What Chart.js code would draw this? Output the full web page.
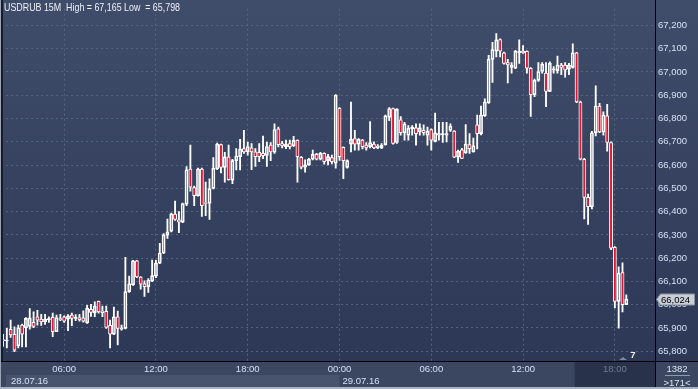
<!DOCTYPE html>
<html>
<head>
<meta charset="utf-8">
<script src="https://cdn.jsdelivr.net/npm/chart.js@4/dist/chart.umd.min.js"></script>
<style>
  html, body { margin: 0; padding: 0; background: #2f3b57; overflow: hidden; }
  #wrap { width: 698px; height: 389px; }
</style>
</head>
<body>
<div id="wrap"><canvas id="chart" width="698" height="389"></canvas></div>
<script>
/* ==================== DATA ==================== */

const symbol = 'USDRUB';
const period = '15M';
const firstBar = { year: 16, month: 7, day: 28, hour: 2, minute: 0 };
const barMinutes = 15;
const visibleBars = 171;
const barsInfo = ['1382', '>171<'];

const opens = [
  65.850, 65.844, 65.894, 65.873, 65.824, 65.912, 65.901, 65.907, 65.924, 65.948,
  65.938, 65.926, 65.936, 65.946, 65.884, 65.937, 65.948, 65.938, 65.955, 65.941,
  65.945, 65.943, 65.922, 65.980, 65.966, 66.014, 65.973, 65.971, 65.911, 65.873,
  65.948, 65.895, 65.898, 66.056, 66.085, 66.188, 66.119, 66.090, 66.077, 66.101,
  66.123, 66.178, 66.222, 66.299, 66.316, 66.389, 66.365, 66.355, 66.432, 66.583,
  66.503, 66.468, 66.583, 66.439, 66.435, 66.500, 66.583, 66.688, 66.590, 66.635,
  66.535, 66.619, 66.636, 66.671, 66.657, 66.674, 66.657, 66.655, 66.650, 66.641,
  66.686, 66.655, 66.756, 66.692, 66.679, 66.692, 66.683, 66.706, 66.633, 66.591,
  66.601, 66.625, 66.646, 66.625, 66.650, 66.619, 66.632, 66.608, 66.844, 66.676,
  66.590, 66.690, 66.714, 66.690, 66.707, 66.686, 66.679, 66.690, 66.674, 66.674,
  66.688, 66.805, 66.843, 66.697, 66.794, 66.739, 66.728, 66.756, 66.760, 66.742,
  66.749, 66.728, 66.752, 66.702, 66.728, 66.731, 66.728, 66.749, 66.746, 66.634,
  66.665, 66.653, 66.688, 66.657, 66.773, 66.735, 66.812, 66.868, 67.054, 67.090,
  67.139, 67.082, 67.040, 67.020, 67.016, 67.082, 67.090, 67.089, 67.016, 66.903,
  66.964, 67.002, 66.995, 66.917, 67.009, 67.006, 67.030, 67.030, 67.012, 67.020,
  67.082, 66.871, 66.625, 66.461, 66.421, 66.739, 66.854, 66.742, 66.812, 66.697,
  66.246, 66.014, 66.138, 66.000
];
const highs = [
  65.873, 65.898, 65.934, 65.905, 65.912, 65.917, 65.945, 65.983, 65.969, 65.976,
  65.959, 65.959, 65.948, 65.964, 65.955, 65.959, 65.952, 65.957, 65.964, 65.957,
  65.959, 65.974, 65.997, 66.002, 66.012, 66.016, 65.994, 65.994, 65.934, 65.990,
  65.973, 65.912, 66.203, 66.123, 66.191, 66.191, 66.121, 66.102, 66.112, 66.192,
  66.191, 66.264, 66.306, 66.368, 66.394, 66.445, 66.400, 66.437, 66.594, 66.686,
  66.510, 66.587, 66.587, 66.527, 66.541, 66.632, 66.695, 66.690, 66.655, 66.686,
  66.625, 66.671, 66.711, 66.749, 66.699, 66.692, 66.671, 66.692, 66.725, 66.699,
  66.697, 66.777, 66.763, 66.702, 66.707, 66.707, 66.723, 66.708, 66.636, 66.622,
  66.629, 66.664, 66.650, 66.655, 66.653, 66.646, 66.643, 66.903, 66.847, 66.678,
  66.622, 66.871, 66.749, 66.714, 66.711, 66.697, 66.787, 66.700, 66.688, 66.692,
  66.815, 66.847, 66.845, 66.843, 66.808, 66.784, 66.770, 66.770, 66.777, 66.777,
  66.773, 66.763, 66.756, 66.823, 66.784, 66.784, 66.784, 66.777, 66.748, 66.664,
  66.672, 66.774, 66.735, 66.716, 66.815, 66.854, 66.885, 67.072, 67.128, 67.165,
  67.142, 67.086, 67.054, 67.040, 67.093, 67.138, 67.114, 67.091, 67.019, 66.970,
  67.040, 67.040, 67.040, 67.044, 67.023, 67.068, 67.037, 67.040, 67.037, 67.121,
  67.084, 66.875, 66.629, 66.475, 66.745, 66.941, 66.865, 66.829, 66.861, 66.700,
  66.250, 66.163, 66.180, 66.042
];
const lows = [
  65.821, 65.814, 65.859, 65.798, 65.814, 65.818, 65.818, 65.895, 65.901, 65.912,
  65.911, 65.915, 65.924, 65.863, 65.884, 65.931, 65.924, 65.888, 65.910, 65.931,
  65.929, 65.925, 65.919, 65.950, 65.949, 65.964, 65.948, 65.898, 65.814, 65.871,
  65.827, 65.891, 65.896, 66.053, 66.083, 66.116, 66.067, 66.036, 66.053, 66.099,
  66.116, 66.176, 66.219, 66.285, 66.313, 66.362, 66.310, 66.353, 66.425, 66.488,
  66.425, 66.466, 66.379, 66.383, 66.366, 66.497, 66.580, 66.566, 66.527, 66.535,
  66.520, 66.579, 66.579, 66.650, 66.643, 66.580, 66.594, 66.615, 66.627, 66.594,
  66.619, 66.650, 66.678, 66.674, 66.671, 66.669, 66.679, 66.527, 66.583, 66.570,
  66.598, 66.622, 66.622, 66.622, 66.604, 66.601, 66.605, 66.587, 66.620, 66.542,
  66.587, 66.657, 66.664, 66.664, 66.669, 66.664, 66.674, 66.671, 66.670, 66.671,
  66.686, 66.791, 66.690, 66.693, 66.728, 66.707, 66.707, 66.728, 66.686, 66.728,
  66.728, 66.686, 66.664, 66.700, 66.707, 66.697, 66.700, 66.745, 66.632, 66.611,
  66.627, 66.650, 66.650, 66.655, 66.669, 66.730, 66.809, 66.865, 66.955, 67.065,
  67.065, 67.034, 66.953, 66.995, 67.014, 67.037, 67.080, 66.995, 66.809, 66.894,
  66.960, 66.995, 66.851, 66.915, 66.995, 66.995, 66.988, 66.978, 66.988, 67.016,
  66.868, 66.622, 66.369, 66.345, 66.412, 66.725, 66.739, 66.728, 66.660, 66.236,
  65.986, 65.899, 65.969, 66.000
];
const closes = [
  65.845, 65.846, 65.870, 65.805, 65.901, 65.873, 65.941, 65.943, 65.907, 65.934,
  65.926, 65.938, 65.937, 65.884, 65.945, 65.936, 65.929, 65.952, 65.941, 65.942,
  65.936, 65.929, 65.985, 65.967, 65.994, 65.969, 65.966, 65.902, 65.873, 65.948,
  65.898, 65.901, 66.056, 66.090, 66.188, 66.119, 66.088, 66.077, 66.105, 66.125,
  66.179, 66.222, 66.300, 66.313, 66.390, 66.366, 66.355, 66.435, 66.580, 66.505,
  66.469, 66.583, 66.426, 66.435, 66.499, 66.587, 66.690, 66.590, 66.635, 66.537,
  66.619, 66.639, 66.669, 66.657, 66.680, 66.657, 66.636, 66.636, 66.640, 66.680,
  66.657, 66.753, 66.688, 66.682, 66.690, 66.679, 66.706, 66.636, 66.591, 66.601,
  66.625, 66.646, 66.625, 66.650, 66.615, 66.636, 66.615, 66.900, 66.636, 66.619,
  66.619, 66.711, 66.690, 66.711, 66.679, 66.674, 66.697, 66.674, 66.682, 66.686,
  66.812, 66.843, 66.693, 66.840, 66.739, 66.777, 66.759, 66.763, 66.735, 66.760,
  66.739, 66.746, 66.707, 66.739, 66.735, 66.735, 66.735, 66.767, 66.634, 66.660,
  66.629, 66.690, 66.671, 66.683, 66.735, 66.815, 66.871, 67.055, 67.096, 67.138,
  67.090, 67.037, 67.030, 67.030, 67.090, 67.090, 67.082, 67.016, 66.903, 66.964,
  67.002, 67.034, 66.917, 67.037, 67.012, 67.030, 67.020, 67.009, 67.030, 67.082,
  66.871, 66.625, 66.461, 66.421, 66.739, 66.854, 66.742, 66.815, 66.697, 66.243,
  66.014, 66.135, 66.000, 66.024
];

const yTicks = [65.8, 65.9, 66.0, 66.1, 66.2, 66.3, 66.4, 66.5, 66.6, 66.7, 66.8, 66.9, 67.0, 67.1, 67.2];
const yMin = 65.758;
const yMax = 67.272;
const shadedFromBar = 150;

/* ==================== HELPERS ==================== */

const pad2 = n => String(n).padStart(2, '0');
const fmtPrice = v => v.toFixed(3).replace('.', ',');

// time and date label of every slot on the x axis
const timeLabels = [];
const dateLabels = [];
for (let i = 0; i < visibleBars; i++) {
    const mins = firstBar.hour * 60 + firstBar.minute + i * barMinutes;
    const day = firstBar.day + Math.floor(mins / 1440);
    const m = mins % 1440;
    timeLabels.push(pad2(Math.floor(m / 60)) + ':' + pad2(m % 60));
    dateLabels.push(pad2(day) + '.' + pad2(firstBar.month) + '.' + pad2(firstBar.year));
}

function isMajor(i) {
    const t = timeLabels[i];
    return t.endsWith(':00') && parseInt(t, 10) % 6 === 0;
}

const COLORS = {
    bgTop: '#404d6a',
    bgBottom: '#2c3855',
    axisRow: '#3b4661',
    dateBox: '#48536d',
    shaded: '#28324a',
    grid: '#56647e',
    text: '#d3e0f6',
    textDim: '#6f7b94',
    candle: '#ffffff',
    bear: '#e3122f'
};

const FONT = '"Liberation Sans", Arial, sans-serif';
const FONT_SIZE = 9.5;

/* ==================== CANDLE DATASETS ==================== */

const bodies = opens.map((o, i) => [o, closes[i]]);
const upperWicks = opens.map((o, i) => [Math.max(o, closes[i]), highs[i]]);
const lowerWicks = opens.map((o, i) => [lows[i], Math.min(o, closes[i])]);

/* ==================== DECORATION PLUGIN ==================== */

const terminalFrame = {
    id: 'terminalFrame',
    beforeDraw(chart) {
        const { ctx, chartArea: a, width, height } = chart;
        const xs = chart.scales.x;
        const slot = (a.right - a.left) / visibleBars;

        const g = ctx.createLinearGradient(0, 0, 0, a.bottom);
        g.addColorStop(0, COLORS.bgTop);
        g.addColorStop(1, COLORS.bgBottom);
        ctx.fillStyle = g;
        ctx.fillRect(0, 0, width, a.bottom);

        ctx.fillStyle = COLORS.axisRow;
        ctx.fillRect(0, a.bottom, width, height - a.bottom);

        // first day box in the date row
        const secondDay = dateLabels.findIndex(d => d !== dateLabels[0]);
        ctx.fillStyle = COLORS.dateBox;
        ctx.fillRect(6, a.bottom + 14, xs.getPixelForValue(secondDay) - 6, 13);

        // darker band at the right of the time axis
        const sx = xs.getPixelForValue(shadedFromBar) - slot / 2;
        ctx.fillStyle = COLORS.shaded;
        ctx.fillRect(sx, a.bottom + 1, a.right - sx, height - a.bottom - 3);
    },
    afterDraw(chart) {
        const { ctx, chartArea: a, width, height } = chart;
        const xs = chart.scales.x;
        const ys = chart.scales.y;

        ctx.save();
        // frame lines
        ctx.fillStyle = '#000';
        ctx.fillRect(0, a.bottom, width, 1);
        ctx.fillRect(a.right, 0, 1, height);
        ctx.fillStyle = '#9aa4b6';
        ctx.fillRect(0, 0, 1, height);
        ctx.fillStyle = '#161c2b';
        ctx.fillRect(1, 0, 2, a.bottom);
        ctx.fillStyle = '#a9b2c2';
        ctx.fillRect(0, height - 2, width, 2);

        // title, squeezed to the terminal's narrow font
        ctx.font = '10.5px ' + FONT;
        ctx.textBaseline = 'middle';
        ctx.textAlign = 'left';
        ctx.fillStyle = '#eef1f6';
        ctx.fillText(symbol + ' ' + period + '  High = ' + fmtPrice(Math.max(...highs)) +
            ' Low  = ' + fmtPrice(Math.min(...lows)), 4, 8.5, 176);

        // date labels
        ctx.font = FONT_SIZE + 'px ' + FONT;
        ctx.fillStyle = COLORS.text;
        dateLabels.forEach((d, i) => {
            if (i === 0 || d !== dateLabels[i - 1]) {
                const x = i === 0 ? a.left + 10 : xs.getPixelForValue(i) + 3;
                ctx.fillText(d, x, a.bottom + 20);
            }
        });

        // bars counter box
        ctx.textAlign = 'center';
        ctx.fillStyle = '#dde4f0';
        ctx.fillText(barsInfo[0], 677, a.bottom + 8);
        ctx.fillText(barsInfo[1], 677, a.bottom + 22);
        ctx.fillStyle = '#8e99ad';
        ctx.fillRect(665, a.bottom + 14, 25, 1);

        // shift marker
        ctx.fillStyle = '#7d889c';
        ctx.beginPath();
        ctx.moveTo(619, a.bottom - 1);
        ctx.lineTo(623, a.bottom - 4);
        ctx.lineTo(627, a.bottom - 1);
        ctx.closePath();
        ctx.fill();
        ctx.fillStyle = '#f0f0f0';
        ctx.font = 'bold 9.5px ' + FONT;
        ctx.fillText('7', 633, a.bottom - 6);

        // last price tag
        const last = closes[closes.length - 1];
        const y = Math.round(ys.getPixelForValue(last)) + 0.5;
        ctx.beginPath();
        ctx.moveTo(a.right + 1.5, y);
        ctx.lineTo(a.right + 5.5, y - 5.5);
        ctx.lineTo(width - 3.5, y - 5.5);
        ctx.lineTo(width - 3.5, y + 5.5);
        ctx.lineTo(a.right + 5.5, y + 5.5);
        ctx.closePath();
        ctx.fillStyle = '#c9cdd5';
        ctx.fill();
        ctx.strokeStyle = '#8b919c';
        ctx.lineWidth = 1;
        ctx.stroke();
        ctx.fillStyle = '#000';
        ctx.font = FONT_SIZE + 'px ' + FONT;
        ctx.textAlign = 'left';
        ctx.fillText(fmtPrice(last), a.right + 6, y + 0.5, 29);
        ctx.restore();
    }
};

/* ==================== CHART ==================== */

new Chart(document.getElementById('chart'), {
    type: 'bar',
    data: {
        labels: timeLabels,
        datasets: [
            {
                label: 'body',
                data: bodies,
                grouped: false,
                order: 0,
                barThickness: 3.2,
                minBarLength: 1,
                borderWidth: 1,
                borderSkipped: false,
                borderColor: COLORS.candle,
                backgroundColor: ctx => closes[ctx.dataIndex] < opens[ctx.dataIndex] ? COLORS.bear : 'rgba(0,0,0,0)'
            },
            {
                label: 'upper wick',
                data: upperWicks,
                grouped: false,
                order: 1,
                barThickness: 1.2,
                borderWidth: 0,
                backgroundColor: COLORS.candle
            },
            {
                label: 'lower wick',
                data: lowerWicks,
                grouped: false,
                order: 2,
                barThickness: 1.2,
                borderWidth: 0,
                backgroundColor: COLORS.candle
            }
        ]
    },
    options: {
        responsive: false,
        animation: false,
        events: [],
        devicePixelRatio: 1,
        layout: { padding: { left: 0, top: 1, right: 0, bottom: 0 } },
        plugins: {
            legend: { display: false },
            tooltip: { enabled: false },
            title: { display: false }
        },
        scales: {
            x: {
                offset: true,
                afterFit: s => { s.height = 28; },
                border: { display: false, dash: [2, 3] },
                grid: {
                    offset: false,
                    drawTicks: false,
                    color: ctx => isMajor(ctx.index) ? COLORS.grid : 'rgba(0,0,0,0)'
                },
                ticks: {
                    autoSkip: false,
                    maxRotation: 0,
                    minRotation: 0,
                    padding: 3,
                    font: { family: FONT, size: FONT_SIZE },
                    color: ctx => ctx.index >= shadedFromBar ? COLORS.textDim : COLORS.text,
                    callback: (v, i) => isMajor(i) ? timeLabels[i] : ''
                }
            },
            y: {
                position: 'right',
                min: yMin,
                max: yMax,
                afterFit: s => { s.width = 43; },
                afterBuildTicks: s => { s.ticks = yTicks.map(v => ({ value: v })); },
                border: { display: false, dash: [2, 3] },
                grid: { drawTicks: false, color: COLORS.grid },
                ticks: {
                    padding: 3,
                    font: { family: FONT, size: FONT_SIZE },
                    color: COLORS.text,
                    callback: v => fmtPrice(v)
                }
            }
        }
    },
    plugins: [terminalFrame]
});
</script>
</body>
</html>
